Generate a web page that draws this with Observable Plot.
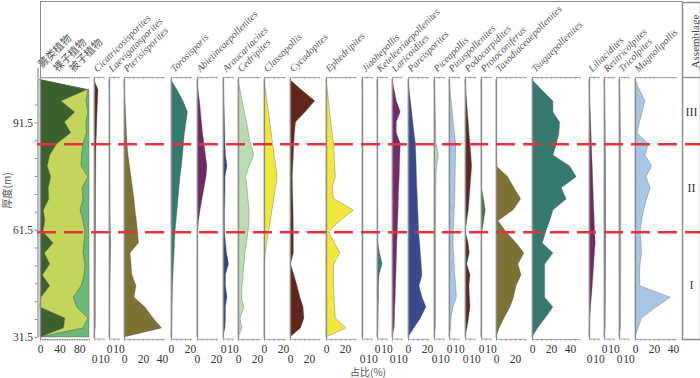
<!DOCTYPE html>
<html><head><meta charset="utf-8">
<script src="https://cdn.jsdelivr.net/npm/d3@7"></script>
<script src="https://cdn.jsdelivr.net/npm/@observablehq/plot@0.6"></script>
<style>
body{margin:0;background:#fff;}
#chart{position:relative;width:700px;height:378px;overflow:hidden;background:#fff;}
#chart > svg, #chart > div{position:absolute;}
</style></head><body><div id="chart"></div>
<script>
// ---------- data ----------
const depth = [103.4, 100.6, 97.5, 94.4, 91.6, 88.6, 85.5, 82.4, 79.3, 76.3, 73.2, 70.1, 67.0, 64.0, 60.9, 57.8, 55.0, 51.9, 48.8, 45.8, 42.6, 39.9, 36.8, 34.0, 31.5];

const stackNames = ["蕨类植物", "裸子植物", "被子植物"];
const fern  = [0, 95, 43, 71, 50, 63, 34, 20, 15, 22, 17, 18, 7, 10, 6, 27, 9, 20, 5, 20, 2, 0, 51, 48, 0];
const gymno = [0, 3, 51, 27, 44, 32, 54, 65, 69, 76, 69, 70, 75, 78, 86, 63, 79, 72, 85, 64, 66, 75, 47, 40, 0];
const angio = [0, 2, 6, 2, 6, 5, 12, 15, 16, 2, 14, 12, 18, 12, 8, 10, 12, 8, 10, 16, 32, 25, 2, 12, 100];

const taxa = ["Cicatricosisporites", "Laevigatosporites", "Pterisisporites", "Torosisporis", "Abietineaepollenites", "Araucariacites", "Cedripites", "Classopollis", "Cycadopites", "Ephedripites", "Jiaohepollis", "Keteleeriaepollenites", "Laricoidites", "Parcisporites", "Piceapollis", "Pinuspollenites", "Podocarpidites", "Protoconiferus", "Taxodiaceaepollenites", "Tsugaepollenites", "Liliacidites", "Retitricolpites", "Tricolpites", "Magnolipollis"];

const cicatricosisporites = [0, 4.2, 3.7, 3.2, 2.9, 2.6, 2.1, 1.9, 1.8, 1.7, 1.6, 1.6, 1.5, 1.5, 1.5, 1.4, 1.4, 1.4, 1.3, 1.3, 1.3, 1.3, 1.3, 1.2, 0];
const laevigatosporites = [0, 0.5, 0.6, 0.6, 0.7, 0.7, 0.8, 0.8, 0.9, 0.9, 1, 1, 1.1, 1.2, 1.4, 1.8, 1.6, 1.4, 1.2, 1, 0.9, 0.8, 0.7, 0.6, 0];
const pterisisporites = [0, 0.5, 1, 1.6, 2.1, 2.6, 3.2, 4.2, 5.8, 7.4, 8.9, 10.5, 11.6, 13.1, 14.2, 15.2, 6.3, 7.4, 8.4, 12.6, 10.5, 22, 30.5, 39.6, 0];
const torosisporis = [0, 6.3, 12.6, 17.3, 15.8, 14.2, 13.1, 12.1, 11, 9.5, 8.4, 7.4, 6.3, 5.3, 4.2, 3.7, 3.2, 2.6, 2.1, 1.6, 1.3, 1.1, 1, 0.8, 0];
const abietineaepollenites = [0, 1, 2.6, 3.7, 4.7, 5.8, 7.4, 8.9, 10.5, 9.5, 7.4, 5.3, 3.2, 1.6, 0.5, 0.3, 0.3, 0.2, 0.2, 0.2, 0.2, 0.2, 0.2, 0.2, 0];
const araucariacites = [0, 0.5, 1, 1.3, 1.6, 1.8, 2.1, 2.6, 4.2, 2.1, 2.1, 1.9, 1.6, 1.6, 1.6, 2.6, 3.7, 5.8, 2.6, 2.6, 4.2, 2.6, 2.6, 2.1, 0];
const cedripites = [0, 2.1, 4.2, 6.8, 8.9, 11, 13.1, 16.8, 11.6, 8.1, 9.5, 10.5, 11.6, 11.6, 10.5, 8.9, 7.4, 6.3, 5.3, 4.2, 3.7, 6.3, 2.1, 4.2, 0];
const classopollis = [0, 1.5, 3, 4.6, 6, 7.6, 9.1, 10.7, 12.3, 13.9, 12.1, 10.3, 8.4, 6.6, 4.7, 2.9, 1.3, 0.2, 0.1, 0.1, 0.1, 0.1, 0.1, 0.1, 0];
const cycadopites = [0, 12, 26, 15.8, 5.8, 4.7, 4, 3.5, 2.9, 2.4, 2.6, 2.9, 3.2, 3.4, 3.5, 3.5, 3.5, 0.5, 4.2, 7.4, 10.5, 13.7, 14.7, 11, 0];
const ephedripites = [0, 1.3, 2.6, 3.9, 5, 6.3, 8.1, 8.6, 9.2, 9.8, 6.3, 8.1, 29, 14.7, 2.8, 8.9, 14.7, 8.1, 7.9, 7.9, 8.4, 8.9, 9.8, 21, 0];
const jiaohepollis = [0, 0.6, 0.7, 0.7, 0.8, 0.8, 0.8, 0.8, 0.8, 0.8, 0.8, 0.8, 0.8, 0.8, 0.8, 0.8, 0.8, 0.8, 0.8, 0.8, 0.8, 0.8, 0.8, 0.7, 0];
const keteleeriaepollenites = [0, 0.4, 0.4, 0.5, 0.5, 0.5, 0.5, 0.5, 0.5, 0.5, 0.5, 0.5, 0.6, 0.6, 0.7, 1, 2.6, 5.3, 2.1, 1.6, 1.6, 1.3, 1.1, 1, 0];
const laricoidites = [0, 2.3, 4.5, 8.7, 4.5, 4.5, 8.7, 8.3, 7.9, 7.6, 7.1, 6.7, 6.4, 6, 5.6, 5.1, 4.8, 4.4, 4.1, 3.7, 3.4, 2.9, 2.6, 2.3, 0];
const parcisporites = [0, 1.3, 2.5, 3.9, 5, 6.4, 7.8, 8.2, 8.6, 8.9, 9.3, 9.9, 10.3, 10.8, 11.2, 12.2, 13, 13.9, 14.7, 11.6, 14.7, 18.9, 13.1, 6.1, 0];
const piceapollis = [0, 0.6, 1, 1.3, 1.6, 1.8, 2.1, 4.7, 2.6, 2.1, 1.9, 1.8, 1.7, 1.7, 1.7, 1.7, 1.7, 1.7, 1.7, 1.7, 1.7, 1.7, 1.6, 1.5, 0];
const pinuspollenites = [0, 1.1, 2.2, 3.4, 4.4, 5.6, 7, 6.8, 6.6, 6.4, 6.2, 5.9, 5.4, 4.9, 4.5, 4.2, 4.7, 5.3, 6, 7.1, 7.8, 4.2, 2.1, 1.6, 0];
const podocarpidites = [0, 0.8, 1.7, 2.5, 3.4, 4.2, 5.3, 6.1, 7, 6.2, 5.3, 4.4, 3.5, 1.8, 0.3, 3.2, 4.5, 1.8, 5.3, 4.2, 4.7, 5.3, 3.7, 2.1, 0];
const protoconiferus = [0, 0.3, 0.3, 0.3, 0.3, 0.3, 0.3, 0.3, 0.3, 0.3, 0.5, 2.6, 4.5, 2.8, 1, 0.4, 0.3, 0.3, 0.3, 0.3, 0.3, 0.3, 0.3, 0.3, 0];
const taxodiaceaepollenites = [0, 0.2, 0.2, 0.2, 0.2, 0.2, 0.2, 0.2, 0.3, 12.3, 18.9, 26, 17.9, 2.1, 10.5, 21, 29.4, 23.1, 26.3, 21, 18.4, 14.7, 8.4, 3.2, 0];
const tsugaepollenites = [0, 10.2, 22, 22, 29, 28.4, 25.7, 22, 39.6, 46.5, 30.8, 36, 22, 18.6, 14.4, 10.8, 22, 13.3, 13.3, 13.3, 13.3, 22, 13.7, 5.8, 0];
const liliacidites = [0, 0.3, 0.8, 1.3, 1.7, 2.1, 2.5, 2.9, 3.4, 3.8, 4.2, 4.6, 5, 5.5, 5.9, 6.6, 5.7, 5, 4.2, 3.4, 2.5, 1.6, 1, 0.5, 0];
const retitricolpites = [0, 0.6, 0.8, 1, 1.1, 1.2, 1.3, 1.4, 1.5, 1.5, 1.6, 1.6, 1.6, 1.6, 1.7, 1.6, 1.6, 1.5, 1.5, 1.4, 1.4, 1.3, 1.2, 1.1, 0];
const tricolpites = [0, 0.8, 1, 1.2, 1.4, 1.6, 1.8, 1.9, 2, 2, 2, 2, 2, 2, 2, 2, 2, 2, 1.9, 1.9, 1.8, 1.8, 1.7, 1.6, 0];
const magnolipollis = [0, 4.7, 10.5, 7.4, 4.7, 2.1, 14, 10.5, 17.5, 11.6, 15.8, 12.3, 9, 7, 5.3, 6.3, 6.8, 5.3, 4.7, 5.3, 37, 22, 6.8, 3.2, 0];

const taxonValues = [cicatricosisporites, laevigatosporites, pterisisporites, torosisporis, abietineaepollenites, araucariacites, cedripites, classopollis, cycadopites, ephedripites, jiaohepollis, keteleeriaepollenites, laricoidites, parcisporites, piceapollis, pinuspollenites, podocarpidites, protoconiferus, taxodiaceaepollenites, tsugaepollenites, liliacidites, retitricolpites, tricolpites, magnolipollis];

const stackTicks = [0, 40, 80];
const yTicks = [31.5, 36.5, 41.5, 46.5, 51.5, 56.5, 61.5, 66.5, 71.5, 76.5, 81.5, 86.5, 91.5, 96.5];
const yTickLabels = [31.5, 61.5, 91.5];
const zoneNames = ["I", "II", "III"];
const zoneBounds = [60.9, 85.5];

// ---------- layout & style ----------
const stackColors = ["#3e5f2e", "#c3d55a", "#6bb878"];
const taxonColors = ["#5c231d", "#5a7a48", "#7b7233", "#367a6f", "#6f2a63", "#36418a", "#bcdbb3", "#efe93c", "#61271f", "#f1e73d", "#6d6a2b", "#327b6e", "#722a68", "#394a8e", "#bad9b1", "#a9c6e6", "#61271f", "#3a8038", "#7b7233", "#367a6f", "#6f2a63", "#36418a", "#b6cfa5", "#a9c6e6"];
const panelLeft = [93.5, 108.5, 124, 171, 196.7, 222.7, 237.5, 263.5, 289.5, 325.7, 361.7, 376.7, 392.3, 407.8, 434, 449.3, 465, 480.7, 496.2, 532.2, 588.5, 604, 619.3, 634.7];
const panelMax = [11, 11, 43, 22, 22, 11, 24, 23, 32, 32, 11, 11, 11, 22, 11, 11, 11, 11, 32, 50, 11, 11, 11, 44];
const PPU = 0.95;           // px per percent in the single-taxon panels
const STACK_LEFT = 40, STACK_WIDTH = 49;

const BOT = 30.94, TOP = 104.18, AXIS_TOP = 106.7;
const PX_PER_M = 262 / (TOP - BOT);
const Y = {domain: [BOT, TOP], range: [339, 77]};
const SERIF = "'Liberation Serif','Times New Roman',serif";
const CJK = "'Noto Sans CJK SC','Noto Sans',sans-serif";

const chart = document.getElementById("chart");
function place(el, left, z = 1) {
  el.style.position = "absolute";
  el.style.left = left + "px";
  el.style.top = "0px";
  el.style.overflow = "visible";
  el.style.background = "transparent";
  el.style.zIndex = z;
  el.style.fontFamily = SERIF;
  el.style.fontSize = "11.5px";
  el.style.color = "#333";
  chart.appendChild(el);
}

function panel({left, width, max, dataMarks, labels, row, titleMarks, color}) {
  const minor = d3.range(0, max + 1e-9, 5);
  const labelDepth = BOT - (row === 2 ? 15.5 : 5.5) / PX_PER_M;   // two staggered label rows
  const svg = Plot.plot({
    width, height: 378,
    marginLeft: 0, marginRight: 0, marginTop: 77, marginBottom: 39,
    x: {domain: [0, max], range: [0, width], axis: null},
    y: {...Y, axis: null},
    color,
    marks: [
      ...dataMarks,
      Plot.ruleX([0], {stroke: "#8a8a8a", strokeWidth: 1.3}),
      Plot.ruleY([TOP], {stroke: "#9a9a9a", strokeWidth: 0.9}),
      Plot.ruleX(minor, {x: d => d, y1: TOP, y2: TOP - 0.55, stroke: "#9a9a9a", strokeWidth: 0.8}),
      Plot.ruleY([BOT], {stroke: "#9a9a9a", strokeWidth: 0.9}),
      Plot.ruleX(minor, {x: d => d, y1: BOT, y2: BOT - 0.6, stroke: "#9a9a9a", strokeWidth: 0.8}),
      Plot.text(labels, {x: d => d, y: () => labelDepth, text: d => String(d), lineAnchor: "top", fill: "#333", fontSize: 11.5, fontFamily: SERIF}),
      ...titleMarks
    ]
  });
  place(svg, left, 2);
}

// stacked panel
const stackRows = depth.flatMap((d, i) => [
  {depth: d, group: stackNames[0], value: fern[i]},
  {depth: d, group: stackNames[1], value: gymno[i]},
  {depth: d, group: stackNames[2], value: angio[i]}
]);
const cjkTitle = (name, dx, dy) => Plot.text([name], {frameAnchor: "top-left", dx, dy, rotate: -45, textAnchor: "start", lineAnchor: "bottom", fontFamily: CJK, fontSize: 10.5, fill: "#555"});
panel({
  left: STACK_LEFT, width: STACK_WIDTH, max: 100, labels: stackTicks, row: 1,
  color: {domain: stackNames, range: stackColors},
  dataMarks: [
    Plot.areaX(stackRows, {x: "value", y: "depth", z: "group", fill: "group", stroke: "#4a5a3a", strokeWidth: 0.4, order: stackNames})
  ],
  titleMarks: [cjkTitle(stackNames[0], 2, -9), cjkTitle(stackNames[1], 17, -5), cjkTitle(stackNames[2], 33, -5)]
});

// single-taxon panels
taxa.forEach((name, i) => {
  const rows = depth.map((d, j) => ({depth: d, value: taxonValues[i][j]}));
  const max = panelMax[i];
  panel({
    left: panelLeft[i], width: max * PPU, max,
    labels: d3.range(0, max, max < 15 ? 10 : 20),
    row: i % 2 === 0 ? 2 : 1,
    dataMarks: [
      Plot.areaX(rows, {x: "value", y: "depth", fill: taxonColors[i], stroke: "#555", strokeWidth: 0.5, strokeOpacity: 0.7})
    ],
    titleMarks: [
      Plot.text([name], {frameAnchor: "top-left", dx: 3, dy: -5, rotate: -45, textAnchor: "start", lineAnchor: "bottom", fontStyle: "italic", fontSize: 10, fill: "#555", fontFamily: SERIF})
    ]
  });
});

// depth axis
const yAxis = Plot.plot({
  width: 38, height: 378, marginLeft: 37.5, marginRight: 0, marginTop: 77, marginBottom: 39,
  x: {domain: [0, 1], range: [37.5, 38], axis: null},
  y: {...Y},
  marks: [
    Plot.ruleX([0], {y1: yTicks[0], y2: AXIS_TOP, stroke: "#8a8a8a", strokeWidth: 1.2}),
    Plot.axisY({anchor: "left", ticks: yTicks, tickSize: 3, tickPadding: 2, label: null, stroke: "#8a8a8a",
      tickFormat: d => yTickLabels.includes(d) ? d3.format(".1f")(d) : ""}),
    Plot.text(["厚度(m)"], {frameAnchor: "left", dx: -30, rotate: -90, fontFamily: CJK, fontSize: 10, fill: "#555"})
  ]
});
place(yAxis, 0, 3);

// outer frame (top & left border)
const frame = document.createElement("div");
Object.assign(frame.style, {left: "40px", top: "1px", width: "642px", height: "76px", borderTop: "1.5px solid #8c8c8c", borderLeft: "1.5px solid #8c8c8c", boxSizing: "border-box", zIndex: 4});
chart.appendChild(frame);

// assemblage column
const zones = zoneNames.map((name, i) => {
  const lo = i === 0 ? depth[depth.length - 1] : zoneBounds[i - 1];
  const hi = i === zoneNames.length - 1 ? depth[0] : zoneBounds[i];
  return {name, mid: (lo + hi) / 2};
});
const assem = Plot.plot({
  width: 18, height: 378, marginLeft: 0, marginRight: 0, marginTop: 2, marginBottom: 39,
  x: {domain: [0, 1], axis: null},
  y: {...Y, axis: null},
  marks: [
    Plot.frame({stroke: "#8c8c8c", strokeWidth: 1.5}),
    Plot.ruleY([TOP], {stroke: "#8c8c8c", strokeWidth: 1.3}),
    Plot.text(["Assemblage"], {frameAnchor: "top", dy: 39, rotate: -90, fontSize: 11, fill: "#444", fontFamily: SERIF}),
    Plot.text(zones, {y: "mid", text: "name", fontSize: 12, fill: "#333", fontFamily: SERIF})
  ]
});
place(assem, 682, 4);

// zone boundaries (red dashed)
const red = Plot.plot({
  width: 663, height: 378, marginLeft: 0, marginRight: 0, marginTop: 77, marginBottom: 39,
  y: {...Y, axis: null},
  marks: [Plot.ruleY(zoneBounds, {stroke: "#e5323f", strokeWidth: 2.4, strokeDasharray: "19,8"})]
});
place(red, 37, 6);

// x label
const xl = document.createElement("div");
xl.textContent = "占比(%)";
Object.assign(xl.style, {left: "350px", top: "366px", fontFamily: CJK, fontSize: "10px", color: "#555", zIndex: 5, lineHeight: "12px"});
chart.appendChild(xl);
</script></body></html>
